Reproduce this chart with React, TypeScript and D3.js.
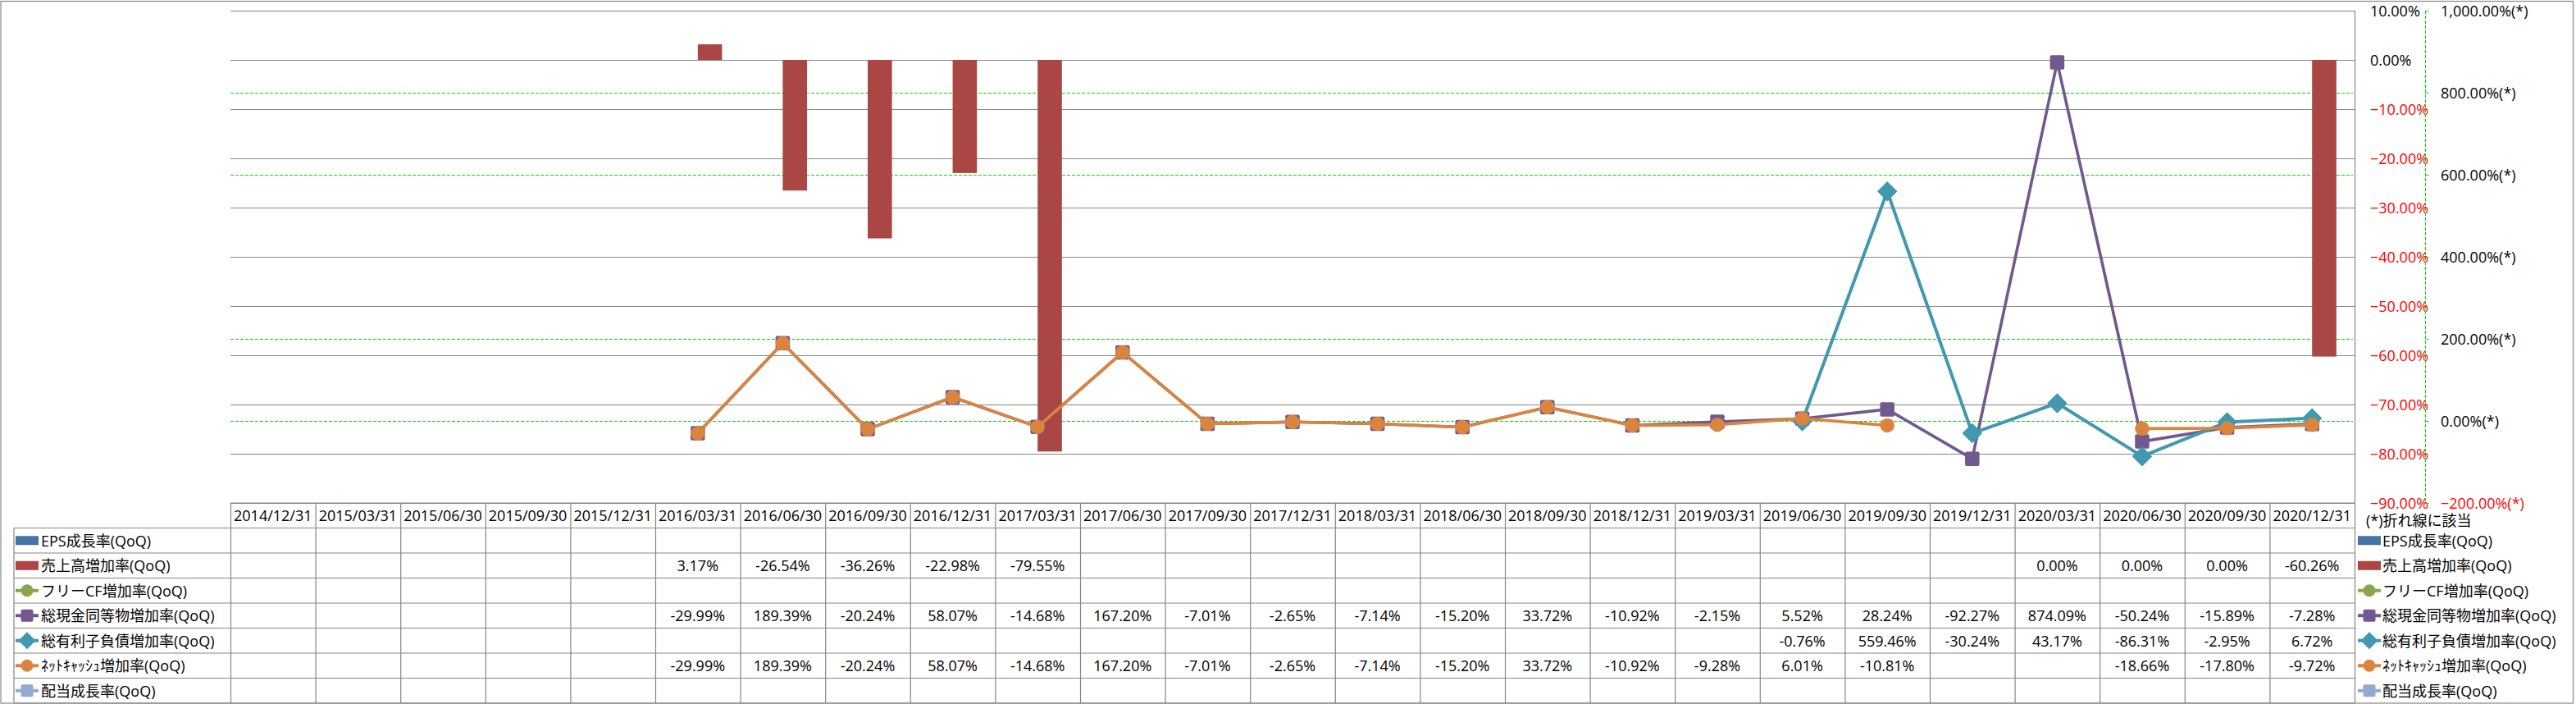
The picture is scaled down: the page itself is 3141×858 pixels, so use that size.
import React, { useEffect, useRef } from 'react';
import * as d3 from 'd3';

const dates = [
  '2014/12/31', '2015/03/31', '2015/06/30', '2015/09/30', '2015/12/31',
  '2016/03/31', '2016/06/30', '2016/09/30', '2016/12/31',
  '2017/03/31', '2017/06/30', '2017/09/30', '2017/12/31',
  '2018/03/31', '2018/06/30', '2018/09/30', '2018/12/31',
  '2019/03/31', '2019/06/30', '2019/09/30', '2019/12/31',
  '2020/03/31', '2020/06/30', '2020/09/30', '2020/12/31',
];

type V = number | null;

// bars (left axis)
const epsGrowth: V[] = [
  null, null, null, null, null, null, null, null, null, null, null, null, null,
  null, null, null, null, null, null, null, null, null, null, null, null,
];
const salesGrowth: V[] = [
  null, null, null, null, null, 3.17, -26.54, -36.26, -22.98, -79.55,
  null, null, null, null, null, null, null, null, null, null, null,
  0.0, 0.0, 0.0, -60.26,
];

// lines (right axis)
const freeCfGrowth: V[] = [
  null, null, null, null, null, null, null, null, null, null, null, null, null,
  null, null, null, null, null, null, null, null, null, null, null, null,
];
const cashGrowth: V[] = [
  null, null, null, null, null, -29.99, 189.39, -20.24, 58.07, -14.68,
  167.2, -7.01, -2.65, -7.14, -15.2, 33.72, -10.92, -2.15, 5.52, 28.24,
  -92.27, 874.09, -50.24, -15.89, -7.28,
];
const debtGrowth: V[] = [
  null, null, null, null, null, null, null, null, null, null, null, null, null,
  null, null, null, null, null, -0.76, 559.46, -30.24, 43.17, -86.31, -2.95, 6.72,
];
const netCashGrowth: V[] = [
  null, null, null, null, null, -29.99, 189.39, -20.24, 58.07, -14.68,
  167.2, -7.01, -2.65, -7.14, -15.2, 33.72, -10.92, -9.28, 6.01, -10.81,
  null, null, -18.66, -17.8, -9.72,
];
const dividendGrowth: V[] = [
  null, null, null, null, null, null, null, null, null, null, null, null, null,
  null, null, null, null, null, null, null, null, null, null, null, null,
];

const seriesNames = [
  'EPS成長率(QoQ)',
  '売上高増加率(QoQ)',
  'フリーCF増加率(QoQ)',
  '総現金同等物増加率(QoQ)',
  '総有利子負債増加率(QoQ)',
  'ﾈｯﾄｷｬｯｼｭ増加率(QoQ)',
  '配当成長率(QoQ)',
];
const seriesValues = [epsGrowth, salesGrowth, freeCfGrowth, cashGrowth, debtGrowth, netCashGrowth, dividendGrowth];
const seriesColors = ['#4572A7', '#AA4643', '#89A54E', '#71588F', '#4198AF', '#DB843D', '#93A9CF'];
const seriesKind = ['bar', 'bar', 'circle', 'square', 'diamond', 'circle', 'square'];

const W = 3141;
const H = 858;
const FONT = '"Open Sans", "Noto Sans CJK JP", sans-serif';

const App: React.FC = () => {
  const svgRef = useRef<SVGSVGElement>(null);

  useEffect(() => {
    const svg = d3.select(svgRef.current);
    svg.selectAll('*').remove();

    const left = 281, right = 2871, top = 13, bottom = 613;
    const tableTop = 613, rowH = 30.5;
    const legendLeft = 17;
    const grid = '#868686';

    const x = d3.scaleBand<string>().domain(dates).range([left, right]);
    const xBar = d3.scaleBand<string>()
      .domain(['eps', 'sales'])
      .range([0, x.bandwidth()])
      .paddingOuter(0.75);
    const yL = d3.scaleLinear().domain([-90, 10]).range([bottom, top]);
    const yR = d3.scaleLinear().domain([-200, 1000]).range([bottom, top]);
    const pct = d3.format(',.2f');

    svg.append('rect').attr('width', W).attr('height', H).attr('fill', '#fff');
    svg.append('rect')
      .attr('x', 1).attr('y', 1.5).attr('width', 3136.5).attr('height', 855.5)
      .attr('fill', 'none').attr('stroke', grid).attr('stroke-width', 1.2);

    // secondary gridlines (green dashed)
    svg.append('g').selectAll('line')
      .data(yR.ticks(6))
      .join('line')
      .attr('x1', left).attr('x2', right - 2)
      .attr('y1', d => Math.round(yR(d)) + 0.5)
      .attr('y2', d => Math.round(yR(d)) + 0.5)
      .attr('stroke', '#00E000').attr('stroke-width', 1).attr('stroke-dasharray', '4,2');

    // primary gridlines
    svg.append('g').selectAll('line')
      .data(yL.ticks(10))
      .join('line')
      .attr('x1', left).attr('x2', right)
      .attr('y1', d => Math.round(yL(d)) + 0.5)
      .attr('y2', d => Math.round(yL(d)) + 0.5)
      .attr('stroke', grid).attr('stroke-width', 1.2);

    svg.append('line')
      .attr('x1', right + 0.5).attr('x2', right + 0.5).attr('y1', top).attr('y2', bottom)
      .attr('stroke', grid).attr('stroke-width', 1.2);

    // primary axis labels
    svg.append('g').selectAll('text')
      .data(yL.ticks(10))
      .join('text')
      .attr('x', 2890)
      .attr('y', d => yL(d))
      .attr('dominant-baseline', 'central')
      .attr('font-family', FONT).attr('font-size', 18)
      .attr('fill', d => (d < 0 ? '#FF0000' : '#000'))
      .text(d => `${pct(d)}%`);

    // secondary axis
    const ax = 2957.5;
    svg.append('line')
      .attr('x1', ax).attr('x2', ax).attr('y1', top).attr('y2', bottom)
      .attr('stroke', '#00E000').attr('stroke-dasharray', '4,2');
    svg.append('g').selectAll('line')
      .data(yR.ticks(6))
      .join('line')
      .attr('x1', ax).attr('x2', ax + 4)
      .attr('y1', d => Math.round(yR(d)) + 0.5)
      .attr('y2', d => Math.round(yR(d)) + 0.5)
      .attr('stroke', '#00E000');
    svg.append('g').selectAll('text')
      .data(yR.ticks(6))
      .join('text')
      .attr('x', 2976)
      .attr('y', d => yR(d))
      .attr('dominant-baseline', 'central')
      .attr('font-family', FONT).attr('font-size', 18)
      .attr('fill', d => (d < 0 ? '#FF0000' : '#000'))
      .text(d => `${pct(d)}%(*)`);
    svg.append('text')
      .attr('x', 2885).attr('y', 634)
      .attr('dominant-baseline', 'central')
      .attr('font-family', FONT).attr('font-size', 18).attr('fill', '#000')
      .text('(*)折れ線に該当');

    // bars
    const barSets: [string, V[], string][] = [
      ['eps', epsGrowth, seriesColors[0]],
      ['sales', salesGrowth, seriesColors[1]],
    ];
    barSets.forEach(([key, vals, color]) => {
      svg.append('g').selectAll('rect')
        .data(dates.map((d, i) => ({ d, v: vals[i] })).filter(p => p.v !== null))
        .join('rect')
        .attr('x', p => (x(p.d) as number) + (xBar(key) as number))
        .attr('width', xBar.bandwidth())
        .attr('y', p => Math.min(yL(p.v as number), yL(0)))
        .attr('height', p => Math.abs(yL(p.v as number) - yL(0)))
        .attr('fill', color);
    });

    // lines
    const cx = (i: number) => (x(dates[i]) as number) + x.bandwidth() / 2;
    const drawMarker = (g: any, kind: string, px: number, py: number, color: string, s: number) => {
      if (kind === 'square') {
        g.append('rect').attr('x', px - s / 2).attr('y', py - s / 2)
          .attr('width', s).attr('height', s).attr('rx', 2).attr('fill', color);
      } else if (kind === 'circle') {
        g.append('circle').attr('cx', px).attr('cy', py).attr('r', s / 2).attr('fill', color);
      } else if (kind === 'diamond') {
        const h = s * 0.7;
        g.append('path')
          .attr('d', `M${px},${py - h}L${px + h},${py}L${px},${py + h}L${px - h},${py}Z`)
          .attr('fill', color);
      }
    };

    [2, 3, 4, 5, 6].forEach(si => {
      const vals = seriesValues[si];
      const color = seriesColors[si];
      const g = svg.append('g');
      const line = d3.line<V>()
        .defined(v => v !== null)
        .x((_, i) => cx(i))
        .y(v => yR(v as number));
      g.append('path')
        .attr('d', line(vals) as string)
        .attr('fill', 'none')
        .attr('stroke', color)
        .attr('stroke-width', si === 4 ? 4 : 3.6)
        .attr('stroke-linejoin', 'round');
      vals.forEach((v, i) => {
        if (v !== null) drawMarker(g, seriesKind[si], cx(i), yR(v), color, 17.5);
      });
    });

    // data table
    const tbl = svg.append('g').attr('font-family', FONT).attr('font-size', 18);
    const tableBottom = tableTop + rowH * 8;
    tbl.append('line')
      .attr('x1', left).attr('x2', right).attr('y1', tableTop).attr('y2', tableTop)
      .attr('stroke', grid).attr('stroke-width', 1.2);
    for (let r = 1; r <= 8; r++) {
      const yy = tableTop + rowH * r;
      tbl.append('line')
        .attr('x1', legendLeft).attr('x2', right).attr('y1', yy).attr('y2', yy)
        .attr('stroke', grid).attr('stroke-width', 1.2);
    }
    tbl.append('line')
      .attr('x1', legendLeft).attr('x2', legendLeft)
      .attr('y1', tableTop + rowH).attr('y2', tableBottom)
      .attr('stroke', grid).attr('stroke-width', 1.2);
    tbl.selectAll('line.col')
      .data([...dates.map(d => x(d) as number), right])
      .join('line')
      .attr('class', 'col')
      .attr('x1', d => d + 0.5).attr('x2', d => d + 0.5)
      .attr('y1', tableTop).attr('y2', tableBottom)
      .attr('stroke', grid).attr('stroke-width', 1.2);

    tbl.selectAll('text.hdr')
      .data(dates)
      .join('text')
      .attr('class', 'hdr')
      .attr('x', d => (x(d) as number) + x.bandwidth() / 2)
      .attr('y', tableTop + rowH / 2)
      .attr('text-anchor', 'middle').attr('dominant-baseline', 'central')
      .attr('fill', '#000')
      .text(d => d);

    const legendKey = (kx: number, cy: number, si: number) => {
      const color = seriesColors[si];
      if (seriesKind[si] === 'bar') {
        tbl.append('rect').attr('x', kx).attr('y', cy - 5.5)
          .attr('width', 28).attr('height', 11).attr('fill', color);
      } else {
        tbl.append('line').attr('x1', kx).attr('x2', kx + 28).attr('y1', cy).attr('y2', cy)
          .attr('stroke', color).attr('stroke-width', 4);
        drawMarker(tbl, seriesKind[si], kx + 14, cy, color, 15);
      }
    };

    seriesNames.forEach((name, si) => {
      const cy = tableTop + rowH * (si + 1.5);
      legendKey(legendLeft + 2, cy, si);
      tbl.append('text')
        .attr('x', 50).attr('y', cy).attr('dominant-baseline', 'central')
        .attr('fill', '#000').text(name);
      legendKey(2875, cy, si);
      tbl.append('text')
        .attr('x', 2905).attr('y', cy).attr('dominant-baseline', 'central')
        .attr('fill', '#000').text(name);
      seriesValues[si].forEach((v, i) => {
        if (v === null) return;
        tbl.append('text')
          .attr('x', cx(i)).attr('y', cy)
          .attr('text-anchor', 'middle').attr('dominant-baseline', 'central')
          .attr('fill', '#000')
          .text(`${v.toFixed(2)}%`);
      });
    });
  }, []);

  return (
    <svg
      ref={svgRef}
      width={W}
      height={H}
      style={{ position: 'absolute', left: 0, top: 0 }}
    />
  );
};

export default App;
